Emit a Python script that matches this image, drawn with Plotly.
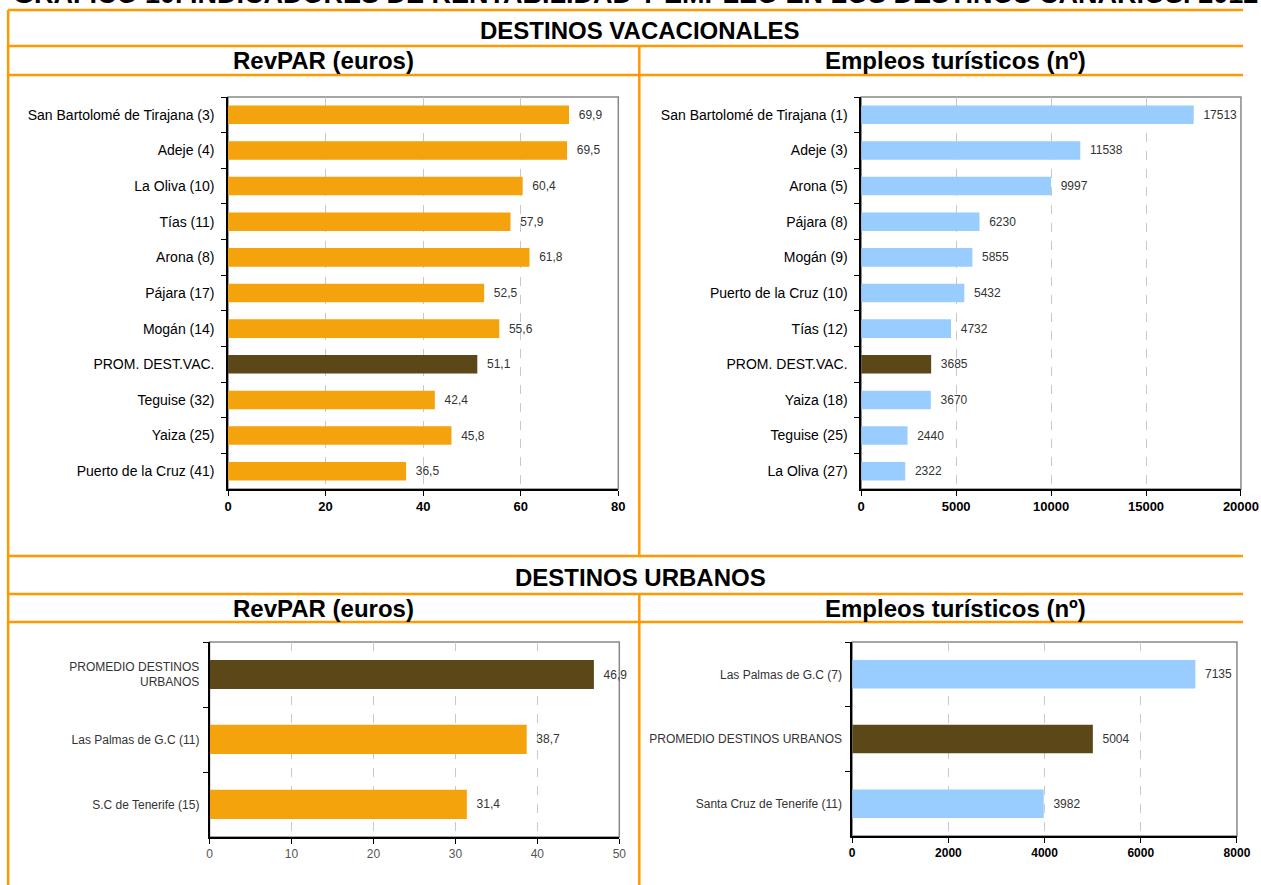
import plotly.graph_objects as go

W, H = 1261, 885

# ---------------- data ----------------
vac_rev_cats = ["San Bartolomé de Tirajana (3)", "Adeje (4)", "La Oliva (10)", "Tías (11)",
                "Arona (8)", "Pájara (17)", "Mogán (14)", "PROM. DEST.VAC.", "Teguise (32)",
                "Yaiza (25)", "Puerto de la Cruz (41)"]
vac_rev_vals = [69.9, 69.5, 60.4, 57.9, 61.8, 52.5, 55.6, 51.1, 42.4, 45.8, 36.5]

vac_emp_cats = ["San Bartolomé de Tirajana (1)", "Adeje (3)", "Arona (5)", "Pájara (8)",
                "Mogán (9)", "Puerto de la Cruz (10)", "Tías (12)", "PROM. DEST.VAC.",
                "Yaiza (18)", "Teguise (25)", "La Oliva (27)"]
vac_emp_vals = [17513, 11538, 9997, 6230, 5855, 5432, 4732, 3685, 3670, 2440, 2322]

urb_rev_cats = ["PROMEDIO DESTINOS<br>URBANOS", "Las Palmas de G.C (11)", "S.C de Tenerife (15)"]
urb_rev_vals = [46.9, 38.7, 31.4]

urb_emp_cats = ["Las Palmas de G.C (7)", "PROMEDIO DESTINOS URBANOS", "Santa Cruz de Tenerife (11)"]
urb_emp_vals = [7135, 5004, 3982]

title_text = "GRÁFICO 10. INDICADORES DE RENTABILIDAD Y EMPLEO EN LOS DESTINOS CANARIOS. 2012"
sec_vac = "DESTINOS VACACIONALES"
sec_urb = "DESTINOS URBANOS"
hdr_rev = "RevPAR (euros)"
hdr_emp = "Empleos turísticos (nº)"

# ---------------- styles ----------------
ORANGE = "#F5A30D"
BROWN = "#5C4718"
BLUE = "#99CCFF"
FRAME = "#FF9900"
FONT = "Arial, Liberation Sans, sans-serif"


def px(x):
    v = ((x - 3.35) / 0.9831) / W
    return min(max(v, 0.0), 1.0)


def py(y):
    return 1 - y / H


def colors(cats, base):
    return [BROWN if c.startswith("PROM") else base for c in cats]


def fmt_dec(v):
    return "\u00a0\u00a0" + f"{v:.1f}".replace(".", ",")


def fmt_int(v):
    return "\u00a0\u00a0" + f"{v}"


fig = go.Figure()

panels = [
    dict(cats=vac_rev_cats, vals=vac_rev_vals, base=ORANGE, fmt=fmt_dec,
         dx=[227.5, 618], dy=[py(489), py(97)], rng=[0, 80], dt=20, gap=0.48,
         yfont=dict(size=14, color="#000"), xfont=dict(size=13, color="#000", weight="bold"),
         tfont=dict(size=12, color="#333"), stand=9),
    dict(cats=vac_emp_cats, vals=vac_emp_vals, base=BLUE, fmt=fmt_int,
         dx=[861, 1241], dy=[py(489), py(97)], rng=[0, 20000], dt=5000, gap=0.48,
         yfont=dict(size=14, color="#000"), xfont=dict(size=13, color="#000", weight="bold"),
         tfont=dict(size=12, color="#333"), stand=9),
    dict(cats=urb_rev_cats, vals=urb_rev_vals, base=ORANGE, fmt=fmt_dec,
         dx=[209, 619], dy=[py(837), py(642)], rng=[0, 50], dt=10, gap=0.55,
         yfont=dict(size=12, color="#333"), xfont=dict(size=12, color="#555"),
         tfont=dict(size=12, color="#333"), stand=6),
    dict(cats=urb_emp_cats, vals=urb_emp_vals, base=BLUE, fmt=fmt_int,
         dx=[852, 1237], dy=[py(836), py(642)], rng=[0, 8000], dt=2000, gap=0.56,
         yfont=dict(size=12, color="#333"), xfont=dict(size=12, color="#000", weight="bold"),
         tfont=dict(size=12, color="#333"), stand=6),
]

layout_axes = {}
shapes = []
for i, p in enumerate(panels, start=1):
    xa = "x" if i == 1 else f"x{i}"
    ya = "y" if i == 1 else f"y{i}"
    fig.add_trace(go.Bar(
        x=p["vals"], y=p["cats"], orientation="h", width=1 - p["gap"],
        marker=dict(color=colors(p["cats"], p["base"]), line=dict(width=0)),
        text=[p["fmt"](v) for v in p["vals"]], textposition="outside",
        textfont=dict(family=FONT, **p["tfont"]), cliponaxis=False,
        xaxis=xa, yaxis=ya, showlegend=False, hoverinfo="skip",
    ))
    xkey = "xaxis" if i == 1 else f"xaxis{i}"
    ykey = "yaxis" if i == 1 else f"yaxis{i}"
    layout_axes[xkey] = dict(
        domain=[px(p["dx"][0]), px(p["dx"][1])], anchor=ya,
        range=p["rng"], dtick=p["dt"], tick0=0, tickformat="d",
        ticklabeloverflow="allow",
        showgrid=True, gridcolor="#C8C8C8", griddash="dash", gridwidth=1,
        zeroline=False, showline=True, linecolor="#000", linewidth=1.5,
        ticks="outside", ticklen=5, tickcolor="#000", tickwidth=1,
        tickfont=dict(family=FONT, **p["xfont"]), fixedrange=True,
    )
    layout_axes[ykey] = dict(
        domain=p["dy"], anchor=xa, type="category", autorange="reversed",
        showgrid=False, zeroline=False, showline=True, linecolor="#000", linewidth=1.5,
        ticks="outside", ticklen=5, tickcolor="#000", tickwidth=1, tickson="boundaries",
        tickfont=dict(family=FONT, **p["yfont"]), ticklabelstandoff=p["stand"],
        fixedrange=True,
    )
    shapes.append(dict(type="rect", xref=f"{xa} domain", yref=f"{ya} domain",
                       x0=0, x1=1, y0=0, y1=1, line=dict(color="#888", width=1.5),
                       fillcolor="rgba(0,0,0,0)", layer="below"))


def hline(y, x0=7.5, x1=1300):
    return dict(type="line", xref="paper", yref="paper", x0=px(x0), x1=px(x1),
                y0=py(y), y1=py(y), line=dict(color=FRAME, width=2.5), layer="above")


def vline(x, y0, y1):
    return dict(type="line", xref="paper", yref="paper", x0=px(x), x1=px(x),
                y0=min(max(py(y0), 0), 1), y1=min(max(py(y1), 0), 1),
                line=dict(color=FRAME, width=2.5), layer="above")


for yy in [10, 46, 75, 556, 594, 622]:
    shapes.append(hline(yy))
shapes.append(vline(7.5, 10, H))
shapes.append(vline(639, 46, 556))
shapes.append(vline(639, 594, H))

hdr_font = dict(family=FONT, size=24, color="#000")
annotations = [
    dict(text=f"<b>{title_text}</b>", x=px(635), y=py(11), xref="paper", yref="paper",
         xanchor="center", yanchor="bottom", showarrow=False,
         font=dict(family=FONT, size=27, color="#000")),
    dict(text=f"<b>{sec_vac}</b>", x=px(640), y=py(31), xref="paper", yref="paper",
         xanchor="center", yanchor="middle", showarrow=False, font=hdr_font),
    dict(text=f"<b>{hdr_rev}</b>", x=px(323), y=py(61), xref="paper", yref="paper",
         xanchor="center", yanchor="middle", showarrow=False, font=hdr_font),
    dict(text=f"<b>{hdr_emp}</b>", x=px(955), y=py(61), xref="paper", yref="paper",
         xanchor="center", yanchor="middle", showarrow=False, font=hdr_font),
    dict(text=f"<b>{sec_urb}</b>", x=px(640), y=py(577), xref="paper", yref="paper",
         xanchor="center", yanchor="middle", showarrow=False, font=hdr_font),
    dict(text=f"<b>{hdr_rev}</b>", x=px(323), y=py(608), xref="paper", yref="paper",
         xanchor="center", yanchor="middle", showarrow=False, font=hdr_font),
    dict(text=f"<b>{hdr_emp}</b>", x=px(955), y=py(608), xref="paper", yref="paper",
         xanchor="center", yanchor="middle", showarrow=False, font=hdr_font),
]

fig.update_layout(
    width=W, height=H, autosize=False,
    margin=dict(l=0, r=0, t=0, b=0, pad=0),
    paper_bgcolor="#FFFFFF", plot_bgcolor="#FFFFFF",
    font=dict(family=FONT),
    shapes=shapes, annotations=annotations,
    **layout_axes,
)

fig.write_html(
    "out.html",
    config={"displayModeBar": False},
    post_script="document.body.style.margin='0';document.body.style.overflow='hidden';"
                "document.documentElement.style.overflow='hidden';",
)
